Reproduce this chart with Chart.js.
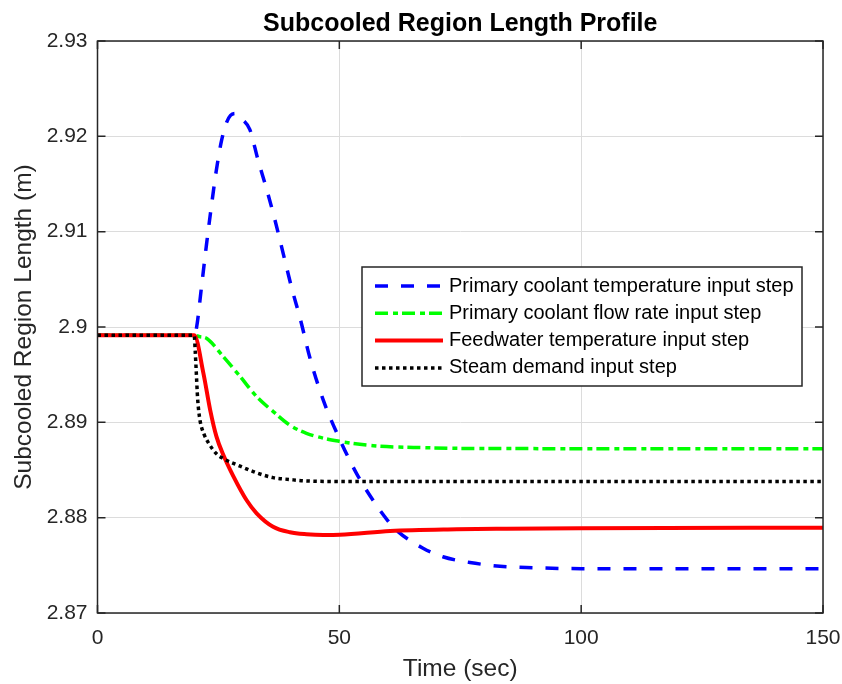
<!DOCTYPE html>
<html>
<head>
<meta charset="utf-8">
<script src="https://cdn.jsdelivr.net/npm/chart.js@4.4.1/dist/chart.umd.min.js"></script>
<style>
  body { margin: 0; background: #fff; }
</style>
</head>
<body>
<canvas id="chart" width="842" height="684"></canvas>
<script>
var chartTitle = 'Subcooled Region Length Profile';

// series labels
var seriesNames = [
    'Primary coolant temperature input step',
    'Primary coolant flow rate input step',
    'Feedwater temperature input step',
    'Steam demand input step'
];

// primary coolant temperature step
var tempTime = [0, 20, 20.5, 21.5, 22.5, 23.5, 24.5, 25.5, 26.5, 27.5, 28.6, 29.7, 31.5, 33.2, 35, 36.7, 38.4, 40.1, 42, 43.9, 46.7, 50.1, 53.6, 57, 60, 62, 67.3, 71.4, 77, 83.2, 90, 100, 150];
var tempValue = [2.89913, 2.89913, 2.9, 2.9042, 2.9085, 2.9125, 2.9162, 2.9192, 2.9212, 2.9222, 2.9224, 2.9219, 2.9207, 2.9175, 2.9144, 2.9112, 2.9077, 2.9042, 2.9007, 2.8968, 2.8923, 2.8882, 2.8846, 2.8818, 2.8797, 2.8786, 2.8768, 2.8759, 2.8753, 2.8749, 2.87475, 2.87465, 2.87465];

// primary coolant flow rate step
var flowTime = [0, 20, 21, 22.6, 26, 29.5, 32.9, 36.4, 39.8, 43.2, 50.1, 57, 67.4, 80, 150];
var flowValue = [2.89913, 2.89913, 2.8990, 2.8988, 2.8969, 2.8948, 2.8927, 2.8911, 2.8897, 2.88885, 2.8880, 2.88755, 2.88734, 2.88725, 2.88723];

// feedwater temperature step
var feedTime = [0, 20, 21.9, 23.3, 24.6, 26, 28.1, 30.8, 32.9, 36.3, 39.8, 43.2, 46.7, 50.1, 60.5, 74.3, 84.6, 100, 150];
var feedValue = [2.89913, 2.89913, 2.89514, 2.89129, 2.8885, 2.8866, 2.88433, 2.88185, 2.88046, 2.87905, 2.87847, 2.87826, 2.87818, 2.8782, 2.8786, 2.87878, 2.87884, 2.8789, 2.87895];

// steam demand step
var steamTime = [0, 20, 20.2, 20.4, 20.7, 21.2, 22, 23, 24.6, 26, 29.5, 32.9, 36.3, 39.8, 43.2, 50, 150];
var steamValue = [2.89913, 2.89913, 2.8975, 2.8955, 2.8925, 2.8902, 2.8888, 2.8878, 2.8867, 2.8862, 2.8854, 2.8847, 2.8842, 2.8840, 2.88385, 2.8838, 2.8838];

var xTicks = [0, 50, 100, 150];
var yTicks = [2.87, 2.88, 2.89, 2.9, 2.91, 2.92, 2.93];

function pts(t, v) {
    return t.map(function (x, i) { return { x: x, y: v[i] }; });
}

Chart.defaults.font.family = '"Liberation Sans", Arial, sans-serif';
Chart.defaults.color = '#262626';

// title centred over the axes, box round the plot with inward tick marks
var frame = {
    id: 'frame',
    afterDatasetsDraw: function (chart) {
        var c = chart.ctx, a = chart.chartArea, sx = chart.scales.x, sy = chart.scales.y;
        c.save();
        c.strokeStyle = '#262626';
        c.lineWidth = 1.5;
        c.strokeRect(a.left, a.top, a.right - a.left, a.bottom - a.top);
        c.beginPath();
        xTicks.forEach(function (t) {
            var px = sx.getPixelForValue(t);
            c.moveTo(px, a.bottom); c.lineTo(px, a.bottom - 8);
            c.moveTo(px, a.top); c.lineTo(px, a.top + 8);
        });
        yTicks.forEach(function (t) {
            var py = sy.getPixelForValue(t);
            c.moveTo(a.left, py); c.lineTo(a.left + 8, py);
            c.moveTo(a.right, py); c.lineTo(a.right - 8, py);
        });
        c.stroke();
        c.fillStyle = '#000';
        c.font = 'bold 25px "Liberation Sans", Arial, sans-serif';
        c.textAlign = 'center';
        c.textBaseline = 'alphabetic';
        c.fillText(chartTitle, (a.left + a.right) / 2, a.top - 10);
        c.restore();
    }
};

// legend inside the axes, upper right
var legendBox = {
    id: 'legendBox',
    afterDatasetsDraw: function (chart) {
        var c = chart.ctx, a = chart.chartArea;
        var w = 440, h = 119;
        var left = a.right - 21 - w, top = a.top + 226;
        c.save();
        c.fillStyle = '#fff';
        c.fillRect(left, top, w, h);
        c.strokeStyle = '#262626';
        c.lineWidth = 1.5;
        c.strokeRect(left, top, w, h);
        chart.data.datasets.forEach(function (ds, i) {
            var y = top + 19 + i * 27.3;
            c.beginPath();
            c.setLineDash(ds.borderDash || []);
            c.strokeStyle = ds.borderColor;
            c.lineWidth = ds.borderWidth;
            c.moveTo(left + 13, y);
            c.lineTo(left + 81, y);
            c.stroke();
            c.setLineDash([]);
            c.fillStyle = '#000';
            c.font = '20px "Liberation Sans", Arial, sans-serif';
            c.textBaseline = 'middle';
            c.fillText(ds.label, left + 87, y);
        });
        c.restore();
    }
};

var ctx = document.getElementById('chart');
var myChart = new Chart(ctx, {
    type: 'line',
    data: {
        datasets: [{
            label: seriesNames[0],
            data: pts(tempTime, tempValue),
            borderColor: '#0000ff',
            borderWidth: 3.5,
            borderDash: [13, 13],
            order: 4
        }, {
            label: seriesNames[1],
            data: pts(flowTime, flowValue),
            borderColor: '#00ff00',
            borderWidth: 3.5,
            borderDash: [13, 5, 5, 4],
            order: 3
        }, {
            label: seriesNames[2],
            data: pts(feedTime, feedValue),
            borderColor: '#ff0000',
            borderWidth: 4,
            order: 2
        }, {
            label: seriesNames[3],
            data: pts(steamTime, steamValue),
            borderColor: '#000000',
            borderWidth: 3.5,
            borderDash: [3.5, 3.5],
            order: 1
        }]
    },
    options: {
        responsive: false,
        animation: false,
        events: [],
        elements: {
            point: { radius: 0 },
            line: { cubicInterpolationMode: 'monotone', fill: false }
        },
        layout: { padding: { top: 41, right: 19, bottom: 0, left: 0 } },
        plugins: {
            legend: { display: false },
            tooltip: { enabled: false },
            title: { display: false }
        },
        scales: {
            x: {
                type: 'linear',
                min: 0,
                max: 150,
                afterBuildTicks: function (s) { s.ticks = xTicks.map(function (v) { return { value: v }; }); },
                afterFit: function (s) { s.height = 71; s.paddingLeft = 0; s.paddingRight = 0; },
                grid: { color: '#dcdcdc', lineWidth: 1, drawTicks: false },
                border: { display: false },
                ticks: { padding: 13, font: { size: 21 }, color: '#262626', maxRotation: 0 },
                title: {
                    display: true,
                    text: 'Time (sec)',
                    color: '#262626',
                    font: { size: 24.5 },
                    padding: { top: 0, bottom: 0 }
                }
            },
            y: {
                min: 2.87,
                max: 2.93,
                afterBuildTicks: function (s) { s.ticks = yTicks.map(function (v) { return { value: v }; }); },
                afterFit: function (s) { s.width = 97.5; s.paddingTop = 0; s.paddingBottom = 0; },
                grid: { color: '#dcdcdc', lineWidth: 1, drawTicks: false },
                border: { display: false },
                ticks: {
                    padding: 10,
                    font: { size: 21 },
                    color: '#262626',
                    callback: function (v) { return String(parseFloat(v.toFixed(2))); }
                },
                title: {
                    display: true,
                    text: 'Subcooled Region Length (m)',
                    color: '#262626',
                    font: { size: 24.5 },
                    padding: { top: 10, bottom: 0 }
                }
            }
        }
    },
    plugins: [frame, legendBox]
});
</script>
</body>
</html>
